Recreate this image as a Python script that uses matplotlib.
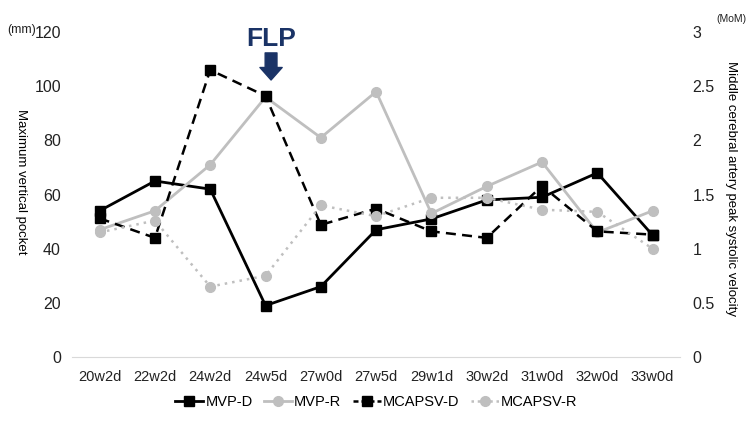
import matplotlib.pyplot as plt
from matplotlib.lines import Line2D
import numpy as np

plt.rcParams['font.family'] = ['Liberation Sans', 'DejaVu Sans']

weeks = ['20w2d', '22w2d', '24w2d', '24w5d', '27w0d', '27w5d',
         '29w1d', '30w2d', '31w0d', '32w0d', '33w0d']
mvp_d = [54, 65, 62, 19, 26, 47, 51, 58, 59, 68, 45]
mvp_r = [47, 54, 71, 96, 81, 98, 53, 63, 72, 46, 54]
mcapsv_d = [1.28, 1.10, 2.65, 2.41, 1.22, 1.37, 1.16, 1.10, 1.58, 1.16, 1.13]
mcapsv_r = [1.15, 1.26, 0.65, 0.75, 1.40, 1.30, 1.47, 1.47, 1.36, 1.34, 1.00]

x = np.arange(len(weeks))
grey = '#bfbfbf'
navy = '#1a3366'

fig = plt.figure(figsize=(7.5, 4.22), dpi=100)
ax = fig.add_axes([0.096, 0.154, 0.811, 0.77])
ax2 = ax.twinx()

l1, = ax.plot(x, mvp_d, color='black', lw=2, marker='s', ms=7, label='MVP-D')
l2, = ax.plot(x, mvp_r, color=grey, lw=2, marker='o', ms=7, label='MVP-R')
ax2.plot(x, mcapsv_d, color='black', lw=1.8, ls=(0, (4, 2.5)), marker='s', ms=7)
ax2.plot(x, mcapsv_r, color=grey, lw=1.8, ls=(0, (1, 2)), marker='o', ms=7)

# legend proxies with shorter dashes so the pattern shows in the small handle
l3 = Line2D([], [], color='black', lw=1.8, ls=(0, (2, 1.2)), marker='s', ms=7, label='MCAPSV-D')
l4 = Line2D([], [], color=grey, lw=1.8, ls=(0, (1, 1.5)), marker='o', ms=7, label='MCAPSV-R')

ax.set_xlim(-0.5, len(weeks) - 0.5)
ax.set_ylim(0, 120)
ax2.set_ylim(0, 3)
ax.set_yticks(range(0, 121, 20))
ax2.set_yticks([0, 0.5, 1, 1.5, 2, 2.5, 3])
ax2.set_yticklabels(['0', '0.5', '1', '1.5', '2', '2.5', '3'])
ax.set_xticks(x)
ax.set_xticklabels(weeks)

for a in (ax, ax2):
    for s in a.spines.values():
        s.set_visible(False)
    a.tick_params(length=0, labelsize=11.5, colors='#222222')
ax.spines['bottom'].set_visible(True)
ax.spines['bottom'].set_color('#d9d9d9')
ax.tick_params(axis='x', pad=9, labelsize=10.5)
ax.tick_params(axis='y', pad=8)
ax2.tick_params(axis='y', pad=9)

ax.set_ylabel('Maximum vertical pocket', rotation=-90, fontsize=9.5, va='center')
ax.yaxis.set_label_coords(-0.084, 0.54)
ax2.set_ylabel('Middle cerebral artery peak systolic velocity', rotation=-90, fontsize=9.5, va='center')
ax2.yaxis.set_label_coords(1.083, 0.52)

fig.text(0.01, 0.922, '(mm)', fontsize=9, color='#222222')
fig.text(0.955, 0.948, '(MoM)', fontsize=7.5, color='#222222')

# FLP marker above 24w5d
ax.text(3.1, 117.4, 'FLP', ha='center', va='center', fontsize=19, fontweight='bold', color=navy)
ax.annotate('', xy=(3.1, 102.3), xytext=(3.1, 112.3),
            arrowprops=dict(arrowstyle='simple,head_width=1.6,head_length=0.9,tail_width=0.85',
                            mutation_scale=10, shrinkA=0, shrinkB=0, color=navy))

fig.legend(handles=[l1, l2, l3, l4], loc='lower center', ncol=4, frameon=False,
           bbox_to_anchor=(0.502, 0.0), fontsize=10.5, handlelength=1.9,
           handletextpad=0.15, columnspacing=0.8)

fig.savefig('out.png', dpi=100)
